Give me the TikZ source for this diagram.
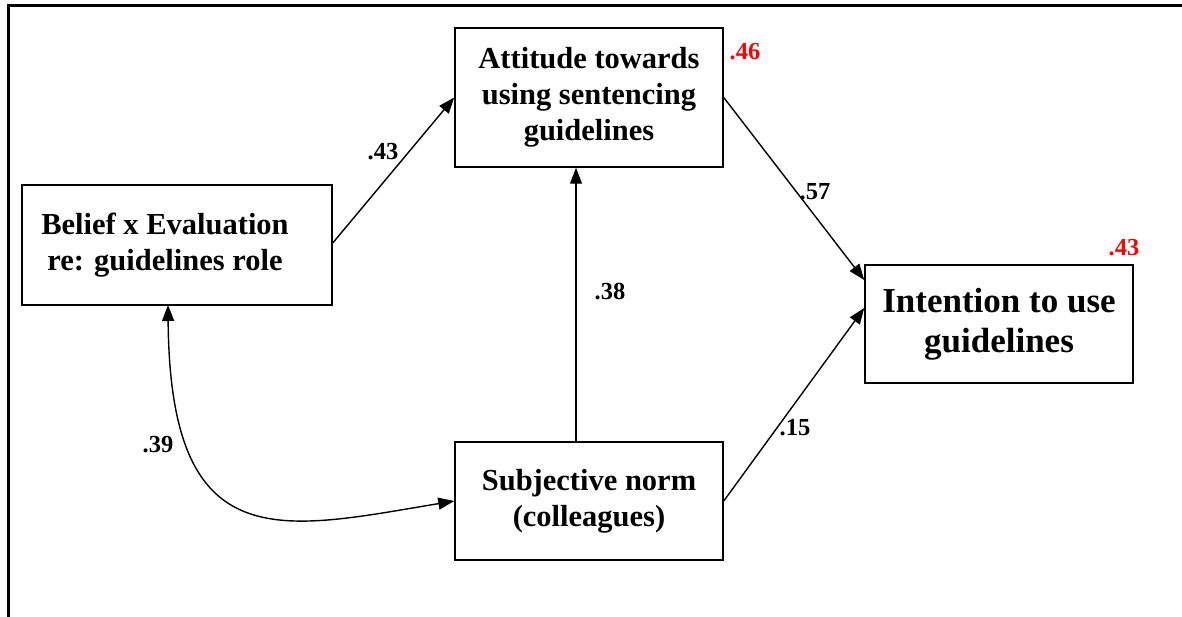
\documentclass[tikz,border=0pt]{standalone}
\usepackage{fontspec}
\setmainfont{Liberation Serif}
\usetikzlibrary{arrows.meta}

\begin{document}
\begin{tikzpicture}[x=1pt, y=-1pt, line width=1.4pt,
    box/.style = {draw, line width=1.5pt, minimum width=268pt, minimum height=118pt, align=center, font=\fontsize{30.5}{36}\selectfont\bfseries},
    coef/.style = {font=\fontsize{24.5}{26}\selectfont\bfseries},
    rsq/.style = {coef, text=red},
    arr/.style = {-{Triangle[length=16pt,width=12pt]}},
    darr/.style = {{Triangle[length=16pt,width=12pt]}-{Triangle[length=16pt,width=12pt]}}]
            \useasboundingbox (0,0) rectangle (1182,617);
            \draw[line width=3pt] (8,617) -- (8,6) -- (1182,6);
            \node[box, minimum height=139pt] (att) at (589,97.5) {Attitude towards\\using sentencing\\guidelines};
            \node[box, minimum width=310pt, minimum height=120pt] (bel) at (177,245) {\hspace*{-24pt}Belief x Evaluation\\\hspace*{-24pt}re: guidelines role};
            \node[box, font=\fontsize{35}{40}\selectfont\bfseries] (int) at (999,324) {Intention to use\\guidelines};
            \node[box] (sub) at (589,501) {Subjective norm\\(colleagues)};
            \coordinate (belbot) at (168,305);
            \draw[arr] (bel.east |- 0,243) -- (att.west);
            \draw[arr] (att.east) -- (int.west |- 0,280);
            \draw[arr] (sub.north -| 576,0) -- (att.south -| 576,0);
            \draw[arr] (sub.east) -- (int.west |- 0,308);
            \draw[darr] (belbot) .. controls (170,560) and (280,530) .. (sub.west);
            \node[coef] (c1) at (383,152) {.43};
            \node[coef] (c2) at (815,192) {.57};
            \node[coef] (c3) at (610,292) {.38};
            \node[coef] (c4) at (795,428) {.15};
            \node[coef] (c5) at (158,445) {.39};
            \node[rsq] (r1) at (745,52) {.46};
            \node[rsq] (r2) at (1124,248) {.43};
        \end{tikzpicture}
\end{document}
